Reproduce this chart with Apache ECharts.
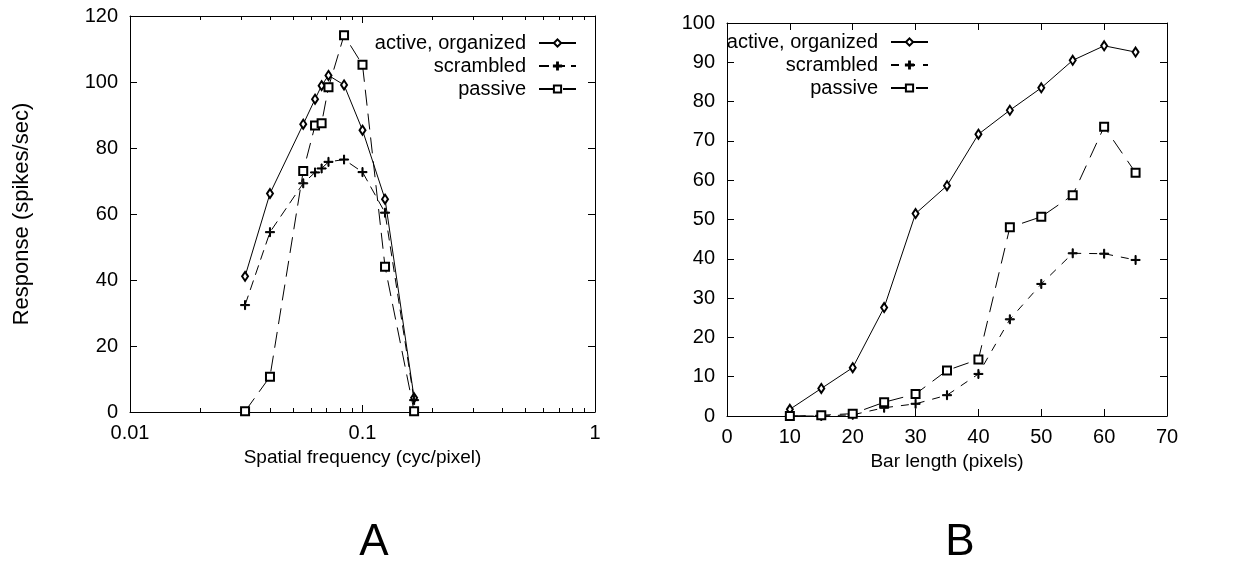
<!DOCTYPE html>
<html>
<head>
<meta charset="utf-8">
<script src="https://cdn.jsdelivr.net/npm/echarts@6/dist/echarts.min.js"></script>
<style>
html,body{margin:0;padding:0;background:#fff;}
#main{width:1254px;height:568px;}
</style>
</head>
<body>
<div id="main"></div>
<script>
// ---- Panel A: spatial frequency tuning ----
const freqX = [0.03125, 0.04, 0.0556, 0.0625, 0.0667, 0.0714, 0.0833, 0.1, 0.125, 0.1667];
const freqActive = [41.1, 66.2, 87.2, 94.8, 98.9, 102.0, 99.1, 85.4, 64.5, 4.3];
const freqScrambled = [32.4, 54.5, 69.3, 72.6, 73.8, 75.8, 76.5, 72.7, 60.4, 3.6];
const freqPassive = [0.2, 10.7, 73.0, 86.8, 87.5, 98.4, 114.2, 105.2, 44.0, 0.2];
const freqMinorTicks = [0.02, 0.03, 0.04, 0.05, 0.06, 0.07, 0.08, 0.09, 0.2, 0.3, 0.4, 0.5, 0.6, 0.7, 0.8, 0.9];

// ---- Panel B: bar length tuning ----
const barLen = [10, 15, 20, 25, 30, 35, 40, 45, 50, 55, 60, 65];
const lenActive = [1.7, 7.0, 12.3, 27.6, 51.5, 58.6, 71.7, 77.8, 83.5, 90.5, 94.2, 92.6];
const lenScrambled = [0, 0, 0.3, 2.1, 3.1, 5.3, 10.7, 24.6, 33.6, 41.4, 41.3, 39.7];
const lenPassive = [0, 0.2, 0.6, 3.5, 5.6, 11.6, 14.4, 48.0, 50.7, 56.2, 73.6, 61.9];

const seriesNames = ['active, organized', 'scrambled', 'passive'];
const panelLabels = ['A', 'B'];

const FONT = 'Liberation Sans, Arial, Helvetica, sans-serif';
const PLUS = 'path://M4.4,0H5.6V4.4H10V5.6H5.6V10H4.4V5.6H0V4.4H4.4Z';

function pairs(xs, ys) { return xs.map((x, i) => [x, ys[i]]); }

function lineSeries(name, xs, ys, gi, symbol, size, dash) {
  return {
    type: 'line', name: name, xAxisIndex: gi * 2, yAxisIndex: gi * 2,
    data: pairs(xs, ys), symbol: symbol, symbolSize: size, showAllSymbol: true,
    lineStyle: { color: '#000', width: 1, type: dash },
    itemStyle: { color: '#000', borderColor: '#000', borderWidth: 1 },
    emphasis: { disabled: true }, animation: false, clip: false, z: 3
  };
}

function axisBase(extra) {
  return Object.assign({
    splitLine: { show: false },
    axisLine: { show: true, onZero: false, lineStyle: { color: '#000', width: 1 } },
    axisTick: { show: true, inside: true, length: 7, lineStyle: { color: '#000' } },
    axisLabel: { color: '#000', fontSize: 20, fontFamily: FONT, margin: 11 },
    nameTextStyle: { color: '#000', fontSize: 19, fontFamily: FONT }
  }, extra);
}

const legendCommon = {
  orient: 'vertical', align: 'right', itemWidth: 37, itemHeight: 9, itemGap: 3, padding: 0,
  textStyle: { color: '#000', fontSize: 20, fontFamily: FONT, padding: [0, 8, 0, 0] },
  formatter: n => n.trim(), selectedMode: false
};

const option = {
  backgroundColor: '#fff',
  animation: false,
  grid: [
    { left: 130, top: 16, width: 465, height: 396 },
    { left: 727, top: 23, width: 440, height: 393 }
  ],
  xAxis: [
    axisBase({ gridIndex: 0, type: 'log', logBase: 10, min: 0.01, max: 1,
      name: 'Spatial frequency (cyc/pixel)', nameLocation: 'middle', nameGap: 29 }),
    axisBase({ gridIndex: 0, type: 'log', logBase: 10, min: 0.01, max: 1, position: 'top',
      axisLabel: { show: false } }),
    axisBase({ gridIndex: 1, type: 'value', min: 0, max: 70, interval: 10,
      name: 'Bar length (pixels)', nameLocation: 'middle', nameGap: 30 }),
    axisBase({ gridIndex: 1, type: 'value', min: 0, max: 70, interval: 10, position: 'top',
      axisLabel: { show: false } })
  ],
  yAxis: [
    axisBase({ gridIndex: 0, type: 'value', min: 0, max: 120, interval: 20,
      name: 'Response (spikes/sec)', nameLocation: 'middle', nameGap: 97,
      nameTextStyle: { color: '#000', fontSize: 22, fontFamily: FONT },
      axisLabel: { color: '#000', fontSize: 20, fontFamily: FONT, margin: 12 } }),
    axisBase({ gridIndex: 0, type: 'value', min: 0, max: 120, interval: 20, position: 'right',
      axisLabel: { show: false } }),
    axisBase({ gridIndex: 1, type: 'value', min: 0, max: 100, interval: 10,
      axisLabel: { color: '#000', fontSize: 20, fontFamily: FONT, margin: 12 } }),
    axisBase({ gridIndex: 1, type: 'value', min: 0, max: 100, interval: 10, position: 'right',
      axisLabel: { show: false } })
  ],
  legend: [
    Object.assign({}, legendCommon, { right: 677, top: 33,
      data: seriesNames.map(n => n) }),
    Object.assign({}, legendCommon, { right: 325, top: 32,
      data: seriesNames.map(n => n + ' ') })
  ],
  graphic: [
    { type: 'text', x: 374, y: 543, style: { text: panelLabels[0], font: '44px ' + FONT, fill: '#000', textAlign: 'center', textVerticalAlign: 'middle' } },
    { type: 'text', x: 960, y: 543, style: { text: panelLabels[1], font: '44px ' + FONT, fill: '#000', textAlign: 'center', textVerticalAlign: 'middle' } }
  ],
  series: [
    lineSeries(seriesNames[0], freqX, freqActive, 0, 'emptyDiamond', [6, 9], 'solid'),
    lineSeries(seriesNames[1], freqX, freqScrambled, 0, PLUS, 9, [10, 6]),
    lineSeries(seriesNames[2], freqX, freqPassive, 0, 'emptyRect', 8, [16, 8]),
    lineSeries(seriesNames[0] + ' ', barLen, lenActive, 1, 'emptyDiamond', [6, 9], 'solid'),
    lineSeries(seriesNames[1] + ' ', barLen, lenScrambled, 1, PLUS, 9, [8, 8]),
    lineSeries(seriesNames[2] + ' ', barLen, lenPassive, 1, 'emptyRect', 8, [16, 9]),
    {
      type: 'custom', xAxisIndex: 0, yAxisIndex: 0, silent: true, clip: false, z: 2,
      data: freqMinorTicks.map(v => [v, 0]),
      renderItem: function (params, api) {
        const v = api.value(0);
        const b = api.coord([v, 0]);
        const t = api.coord([v, 120]);
        const x = Math.round(b[0]) + 0.5;
        return {
          type: 'group', children: [
            { type: 'line', shape: { x1: x, y1: b[1], x2: x, y2: b[1] - 4 }, style: { stroke: '#000', lineWidth: 1 } },
            { type: 'line', shape: { x1: x, y1: t[1], x2: x, y2: t[1] + 4 }, style: { stroke: '#000', lineWidth: 1 } }
          ]
        };
      }
    }
  ]
};

const chart = echarts.init(document.getElementById('main'), null, { renderer: 'canvas' });
chart.setOption(option);
</script>
</body>
</html>
